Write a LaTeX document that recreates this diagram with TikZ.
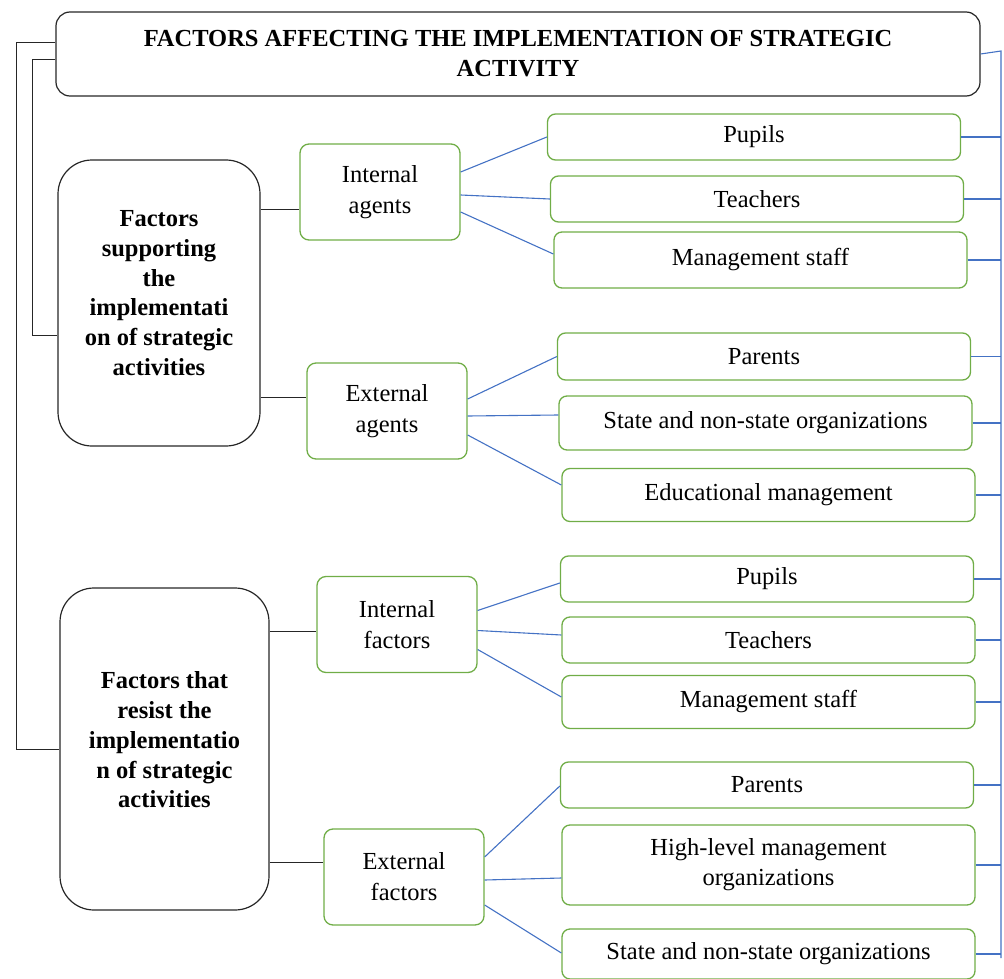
\documentclass[tikz,border=0pt]{standalone}
\usepackage{fontspec}
\setmainfont{Liberation Serif}
\usepackage{xcolor}
\usetikzlibrary{positioning}

\definecolor{leafgreen}{RGB}{112,173,71}
\definecolor{linkblue}{RGB}{68,114,196}

\tikzset{
    headbox/.style = {draw = black!85, line width = 1.2pt, rounded corners = 14pt,
        minimum width = 924pt, minimum height = 84pt, align = center,
        font = \fontsize{24.5}{30}\selectfont\bfseries},
    groupbox/.style = {draw = black!85, line width = 1.2pt, rounded corners = 34pt},
    grouptext/.style = {align = center, inner sep = 0pt,
        font = \fontsize{24.5}{29.8}\selectfont\bfseries},
    agentbox/.style = {draw = leafgreen, line width = 1.3pt, rounded corners = 9pt,
        minimum width = 160pt, minimum height = 96pt, align = center,
        font = \fontsize{24.5}{31}\selectfont},
    leaf/.style = {draw = leafgreen, line width = 1.3pt, rounded corners = 8pt,
        minimum width = 413pt, minimum height = 46pt, align = center,
        font = \fontsize{24.5}{30}\selectfont},
    trunk/.style = {draw = black!85, line width = 1pt},
    link/.style = {draw = linkblue, line width = 1.1pt}
}

\begin{document}
\begin{tikzpicture}[x = 1pt, y = -1pt]
        \useasboundingbox (0, 0) rectangle (1004, 979);

        % heading
        \node[headbox] (head) at (518, 54)
            {FACTORS AFFECTING THE IMPLEMENTATION OF STRATEGIC\\ACTIVITY};

        % the two groups
        \node[groupbox, minimum width = 202pt, minimum height = 286pt] (sup) at (159, 303) {};
        \node[grouptext] (suptext) at ([yshift = 10]sup.center)
            {Factors\\supporting\\the\\implementati\\on of strategic\\activities};
        \node[groupbox, minimum width = 209pt, minimum height = 322pt] (res) at (164.5, 749) {};
        \node[grouptext] (restext) at ([yshift = 9]res.center)
            {Factors that\\resist the\\implementatio\\n of strategic\\activities};

        % agents and factors
        \node[agentbox] (ia) at (380, 192) {Internal\\agents};
        \node[agentbox] (ea) at (387, 411) {External\\agents};
        \node[agentbox] (if) at (397, 624.5) {Internal\\factors};
        \node[agentbox] (ef) at (404, 877) {External\\factors};

        % leaves
        \node[leaf] (r1) at (754, 137) {Pupils};
        \node[leaf] (r2) at (757, 199) {Teachers};
        \node[leaf, minimum height = 56pt] (r3) at (760.5, 260) {Management staff};
        \node[leaf, minimum height = 47pt] (r4) at (764, 356.5) {Parents};
        \node[leaf, minimum height = 54pt] (r5) at (765.5, 423) {State and non-state organizations};
        \node[leaf, minimum height = 53pt] (r6) at (768.5, 495) {Educational management};
        \node[leaf] (r7) at (767, 579) {Pupils};
        \node[leaf] (r8) at (768.5, 640) {Teachers};
        \node[leaf, minimum height = 53pt] (r9) at (768.5, 702) {Management staff};
        \node[leaf] (r10) at (767, 785) {Parents};
        \node[leaf, minimum height = 80pt] (r11) at (768.5, 865) {High-level management\\organizations};
        \node[leaf, minimum height = 50pt] (r12) at (768.5, 954) {State and non-state organizations};

        % brackets on the left
        \draw[trunk] ([yshift = 11]head.west) -- ++(-39, 0) |- (res.west);
        \draw[trunk] ([yshift = -6]head.west) -- ++(-23, 0) |- ([yshift = -32]sup.west);

        % groups to agents
        \draw[trunk] ([yshift = 94]sup.east) -- ([yshift = 94]sup.east -| ia.west);
        \draw[trunk] ([yshift = -94]sup.east) -- ([yshift = -94]sup.east -| ea.west);
        \draw[trunk] ([yshift = 118]res.east) -- ([yshift = 118]res.east -| if.west);
        \draw[trunk] ([yshift = -113]res.east) -- ([yshift = -113]res.east -| ef.west);

        % agents to leaves
        \draw[link] ([yshift = 20]ia.east) -- (r1.west);
        \draw[link] ([yshift = -3]ia.east) -- (r2.west);
        \draw[link] ([yshift = -20]ia.east) -- ([yshift = 6]r3.west);
        \draw[link] ([yshift = 12]ea.east) -- (r4.west);
        \draw[link] ([yshift = -5]ea.east) -- ([yshift = 8]r5.west);
        \draw[link] ([yshift = -24]ea.east) -- ([yshift = 10]r6.west);
        \draw[link] ([yshift = 14]if.east) -- ([yshift = -4]r7.west);
        \draw[link] ([yshift = -6]if.east) -- ([yshift = 5]r8.west);
        \draw[link] ([yshift = -25]if.east) -- ([yshift = 5]r9.west);
        \draw[link] ([yshift = 20]ef.east) -- ([yshift = -1]r10.west);
        \draw[link] ([yshift = -3]ef.east) -- ([yshift = -13]r11.west);
        \draw[link] ([yshift = -28]ef.east) -- ([yshift = 1]r12.west);

        % bus on the right
        \coordinate (bustop) at (1001, 51);
        \coordinate (busend) at (1001, 958);
        \draw[link] (head.east) -- (bustop) -- (busend);
        \foreach \leafname in {r1, r2, r3, r4, r5, r6, r7, r8, r9, r10, r11, r12}
            \draw[link] (\leafname.east) -- (\leafname.east -| bustop);
        \end{tikzpicture}
\end{document}
